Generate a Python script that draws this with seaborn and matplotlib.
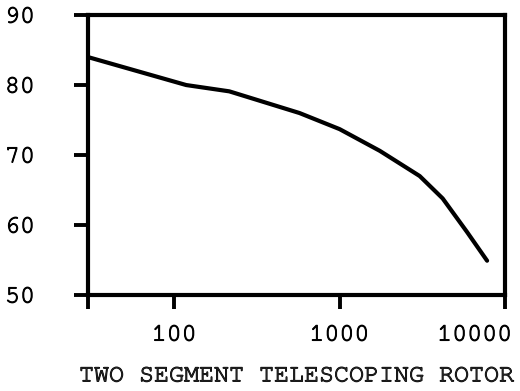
import matplotlib
matplotlib.use("Agg")
import matplotlib.pyplot as plt
import matplotlib.transforms as mtransforms
import matplotlib.patheffects as pe
import seaborn as sns
import pandas as pd

# Curve (log x, linear y)
rotor_x = [30, 118, 215, 572, 1000, 1750, 3050, 4200, 5900, 7800]
rotor_y = [84.0, 80.0, 79.1, 76.0, 73.7, 70.6, 67.0, 63.8, 59.0, 54.9]

x_ticks = [30, 100, 1000, 10000]
x_tick_labels = ["", "100", "1000", "10000"]
y_ticks = [50, 60, 70, 80, 90]
y_tick_labels = ["50", "60", "70", "80", "90"]
x_title = "TWO SEGMENT TELESCOPING ROTOR"

sns.set_style("ticks")
plt.rcParams["font.family"] = ["Nimbus Mono PS", "FreeMono", "Courier New",
                               "Liberation Mono", "DejaVu Sans Mono"]

# typewriter-weight lettering: regular face with a slight ink spread
ink = [pe.withStroke(linewidth=0.7, foreground="black")]

df = pd.DataFrame({"x": rotor_x, "y": rotor_y})

fig = plt.figure(figsize=(5.2, 3.91), dpi=100)
ax = fig.add_axes([0.169, 0.2455, 0.802, 0.716])

sns.lineplot(data=df, x="x", y="y", ax=ax, color="black", linewidth=3.0,
             solid_capstyle="round", solid_joinstyle="round")

ax.set_xscale("log")
ax.set_xlim(30, 10000)
ax.set_ylim(50, 90)
ax.minorticks_off()
ax.set_xticks(x_ticks)
ax.set_xticklabels(x_tick_labels)
ax.set_yticks(y_ticks)
ax.set_yticklabels(y_tick_labels)

for side in ["left", "right", "top", "bottom"]:
    ax.spines[side].set_visible(True)
    ax.spines[side].set_linewidth(3.0)
    ax.spines[side].set_color("black")

ax.tick_params(axis="both", direction="out", length=10, width=2.8,
               colors="black", labelsize=18)
ax.tick_params(axis="x", pad=12)
ax.tick_params(axis="y", pad=28)
for lab in ax.get_xticklabels() + ax.get_yticklabels():
    lab.set_path_effects(ink)

# the last decade label sits inside the right border
last = ax.get_xticklabels()[-1]
last.set_transform(last.get_transform() +
                   mtransforms.ScaledTranslation(-0.30, 0, fig.dpi_scale_trans))

ax.set_xlabel(x_title, fontsize=18, labelpad=15, path_effects=ink)
ax.set_ylabel("")

fig.savefig("out.png", dpi=100)
